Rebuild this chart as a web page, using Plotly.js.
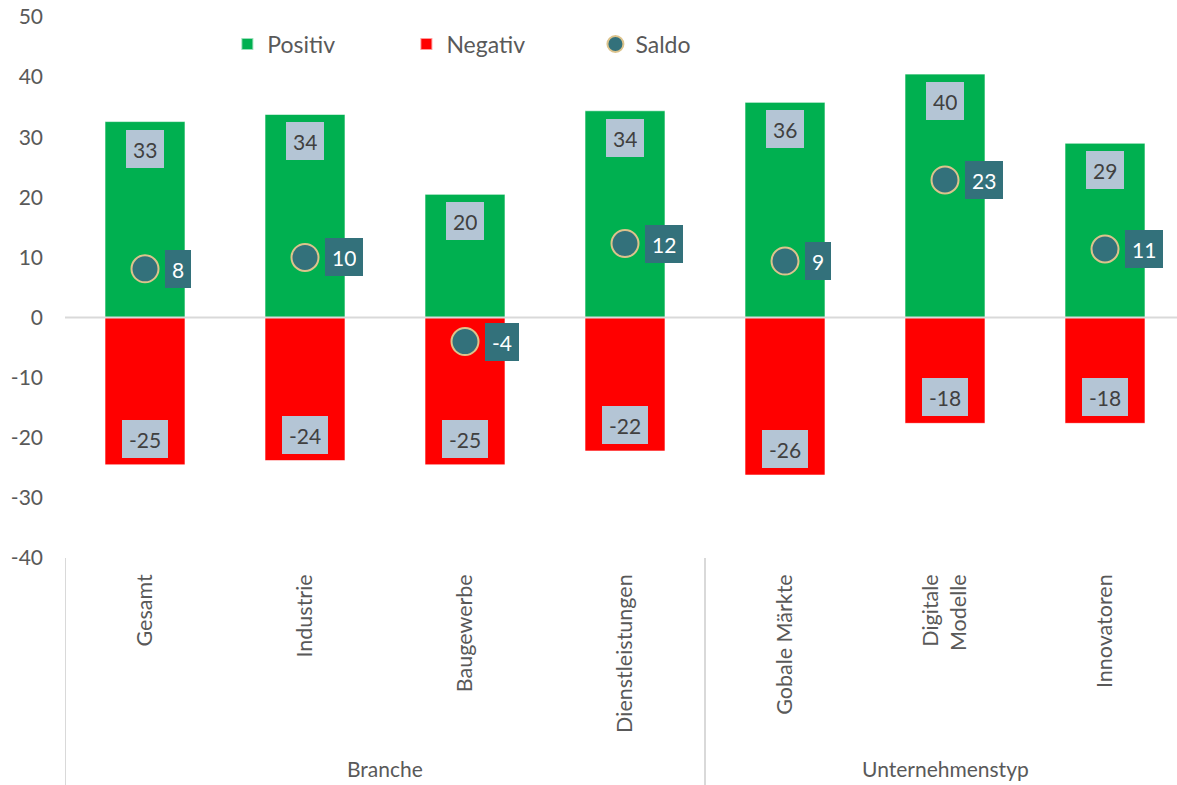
<!DOCTYPE html>
<html>
<head>
<meta charset="utf-8">
<script src="https://cdn.plot.ly/plotly-3.0.1.min.js"></script>
<style>html,body{margin:0;padding:0;background:#fff;}#chart{width:1177px;height:785px;}</style>
</head>
<body>
<div id="chart"></div>
<script>
const categories = ["Gesamt", "Industrie", "Baugewerbe", "Dienstleistungen", "Gobale Märkte", "Digitale<br>Modelle", "Innovatoren"];
const positiv = [32.6, 33.8, 20.5, 34.4, 35.8, 40.5, 29.0];
const negativ = [-24.5, -23.8, -24.5, -22.2, -26.2, -17.6, -17.6];
const saldo = [8.1, 10.0, -4.0, 12.3, 9.4, 22.9, 11.4];
const positivLabels = ["33", "34", "20", "34", "36", "40", "29"];
const negativLabels = ["-25", "-24", "-25", "-22", "-26", "-18", "-18"];
const saldoLabels = ["8", "10", "-4", "12", "9", "23", "11"];
const yTickVals = [-40, -30, -20, -10, 0, 10, 20, 30, 40, 50];
const yTickText = ["-40", "-30", "-20", "-10", "0", "10", "20", "30", "40", "50"];
const groups = ["Branche", "Unternehmenstyp"];
const groupSizes = [4, 3];

const FONT = "Lato, 'Open Sans', sans-serif";
const GREEN = "#00b050", RED = "#ff0000", TEAL = "#33717b", TAN = "#dcc38c", BOXGRAY = "#b4c5d5";

const traces = [
  {type: "bar", name: "Positiv", x: categories, y: positiv, width: 0.5,
   marker: {color: GREEN, line: {color: "rgba(255,255,255,0.6)", width: 1}},
   hoverinfo: "skip", legend: "legend"},
  {type: "bar", name: "Negativ", x: categories, y: negativ, width: 0.5,
   marker: {color: RED, line: {color: "rgba(255,255,255,0.6)", width: 1}},
   hoverinfo: "skip", legend: "legend2"},
  {type: "scatter", mode: "markers", name: "Saldo", x: categories, y: saldo,
   marker: {size: 27, color: TEAL, line: {color: TAN, width: 2}},
   hoverinfo: "skip", legend: "legend3"}
];

const annotations = [];
categories.forEach((c, i) => {
  annotations.push({x: c, y: positiv[i], xref: "x", yref: "y", text: positivLabels[i],
    showarrow: false, yanchor: "top", yshift: -8, bgcolor: BOXGRAY, borderpad: 7, borderwidth: 0,
    height: 24, font: {family: FONT, size: 21, color: "#404040"}});
  annotations.push({x: c, y: negativ[i], xref: "x", yref: "y", text: negativLabels[i],
    showarrow: false, yanchor: "bottom", yshift: 7, bgcolor: BOXGRAY, borderpad: 7, borderwidth: 0,
    height: 24, font: {family: FONT, size: 21, color: "#404040"}});
  annotations.push({x: c, y: saldo[i], xref: "x", yref: "y", text: saldoLabels[i],
    showarrow: false, xanchor: "left", yanchor: "middle", xshift: 20, bgcolor: TEAL, borderpad: 7, borderwidth: 0,
    height: 24, font: {family: FONT, size: 21, color: "#ffffff"}});
});

const shapes = [
  {type: "line", xref: "paper", yref: "y", x0: 0, x1: 1, y0: 0, y1: 0, layer: "above",
   line: {color: "#d9d9d9", width: 2}}
];
let start = 0;
groups.forEach((g, gi) => {
  const n = groupSizes[gi];
  shapes.push({type: "line", xref: "x", yref: "paper", x0: start - 0.5, x1: start - 0.5, y0: 0, y1: -0.42,
    line: {color: "#d9d9d9", width: 2}});
  annotations.push({xref: "x", yref: "paper", x: start + (n - 1) / 2, y: -0.389, text: g,
    showarrow: false, xanchor: "center", yanchor: "middle", font: {family: FONT, size: 21, color: "#595959"}});
  start += n;
});

const legendBase = {orientation: "h", yanchor: "middle", xanchor: "left", y: 0.95,
  font: {family: FONT, size: 23, color: "#595959"}, bgcolor: "rgba(0,0,0,0)", itemsizing: "constant"};

const layout = {
  width: 1177, height: 785,
  margin: {l: 65, r: 0, t: 17, b: 227},
  paper_bgcolor: "#ffffff", plot_bgcolor: "#ffffff",
  barmode: "relative",
  font: {family: FONT, size: 21, color: "#595959"},
  xaxis: {type: "category", range: [-0.5, 6.45], showgrid: false, zeroline: false, showline: false,
    ticks: "", tickangle: -90, ticklabelstandoff: 11, tickfont: {family: FONT, size: 21.5, color: "#595959"},
    fixedrange: true},
  yaxis: {range: [-40, 50], tickmode: "array", tickvals: yTickVals, ticktext: yTickText,
    showgrid: false, zeroline: false, showline: false,
    ticks: "", ticklabelstandoff: 21, tickfont: {family: FONT, size: 21, color: "#595959"}, fixedrange: true},
  legend: Object.assign({}, legendBase, {x: 0.146}),
  legend2: Object.assign({}, legendBase, {x: 0.307}),
  legend3: Object.assign({}, legendBase, {x: 0.477, itemsizing: "trace"}),
  showlegend: true,
  annotations: annotations,
  shapes: shapes
};

Plotly.newPlot("chart", traces, layout, {displayModeBar: false, staticPlot: true});
</script>
</body>
</html>
